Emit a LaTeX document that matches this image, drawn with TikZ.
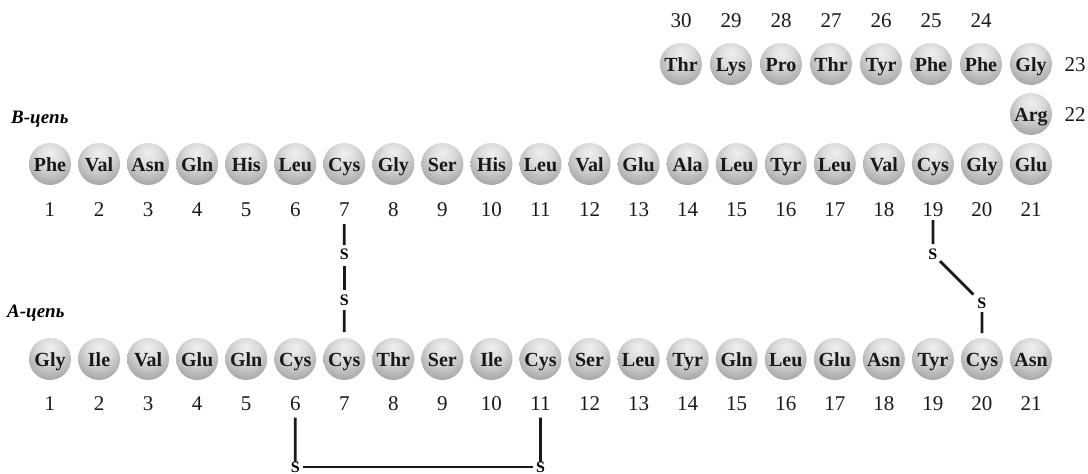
\documentclass[tikz,border=0pt]{standalone}
\usepackage{fontspec}
\setmainfont{Liberation Serif}
\pgfdeclareradialshading{aaball}{\pgfpoint{0bp}{14bp}}{color(0bp)=(black!6); color(14bp)=(black!14); color(32bp)=(black!34); color(50bp)=(black!50); color(70bp)=(black!55)}
\tikzset{
  aa/.style={circle, shading=aaball, minimum size=42pt, inner sep=0pt, text height=14pt, text depth=0pt, font=\fontsize{20}{20}\selectfont\bfseries, text=black!90},
  num/.style={font=\fontsize{21}{21}\selectfont, text=black!90},
  chainlabel/.style={font=\fontsize{19}{19}\selectfont\bfseries\itshape, anchor=base west, inner sep=0pt},
  sulf/.style={font=\fontsize{16}{16}\selectfont\bfseries, inner sep=0pt},
  bond/.style={line width=2.8pt, black!90}
}
\begin{document}
\begin{tikzpicture}[x=1pt,y=-1pt]
\useasboundingbox (0,0) rectangle (1088,474);
% chain labels
\node[chainlabel] (blabel) at (11,123) {B-цепь};
\node[chainlabel] (alabel) at (7,317) {A-цепь};
% B chain
\foreach \n [count=\i] in {Phe,Val,Asn,Gln,His,Leu,Cys,Gly,Ser,His,Leu,Val,Glu,Ala,Leu,Tyr,Leu,Val,Cys,Gly,Glu}{
  \node[aa] (b\i) at ({50+49.05*(\i-1)},164) {\n};
  \node[num] (bn\i) at ({50+49.05*(\i-1)},210) {\i};
}
% B chain top part
\node[aa] (b23) at (1031,64) {Gly};
\node[num] (bn23) at (1075,65) {23};
\node[aa] (b22) at (1031,114) {Arg};
\node[num] (bn22) at (1075,115) {22};
\foreach \n/\k [count=\j] in {Thr/30,Lys/29,Pro/28,Thr/27,Tyr/26,Phe/25,Phe/24}{
  \node[aa] (b\k) at ({681+50*(\j-1)},64) {\n};
  \node[num] (bn\k) at ({681+50*(\j-1)},21) {\k};
}
% A chain
\foreach \n [count=\i] in {Gly,Ile,Val,Glu,Gln,Cys,Cys,Thr,Ser,Ile,Cys,Ser,Leu,Tyr,Gln,Leu,Glu,Asn,Tyr,Cys,Asn}{
  \node[aa] (a\i) at ({50+49.05*(\i-1)},359) {\n};
  \node[num] (an\i) at ({50+49.05*(\i-1)},403.5) {\i};
}
% disulfide bridges
\node[sulf] (s1) at (344.3,254) {S};
\node[sulf] (s2) at (344.3,300) {S};
\draw[bond, shorten <=14pt, shorten >=9pt] (bn7.center) -- (s1.center);
\draw[bond, shorten <=12pt, shorten >=10pt] (s1.center) -- (s2.center);
\draw[bond, shorten <=10pt, shorten >=27pt] (s2.center) -- (a7.center);
\node[sulf] (s3) at (932.9,254) {S};
\node[sulf] (s4) at (981.9,303) {S};
\draw[bond, shorten <=10pt, shorten >=10pt] (bn19.center) -- (s3.center);
\draw[bond, shorten <=10pt, shorten >=12pt] (s3.center) -- (s4.center);
\draw[bond, shorten <=9pt, shorten >=26pt] (s4.center) -- (a20.center);
\node[sulf] (s5) at (295.3,467) {S};
\node[sulf] (s6) at (540.5,467) {S};
\draw[bond, shorten <=14pt, shorten >=5pt] (an6.center) -- (s5.center);
\draw[bond, shorten <=14pt, shorten >=5pt] (an11.center) -- (s6.center);
\draw[bond, shorten <=8pt, shorten >=8pt] (s5.center) -- (s6.center);
\end{tikzpicture}
\end{document}
